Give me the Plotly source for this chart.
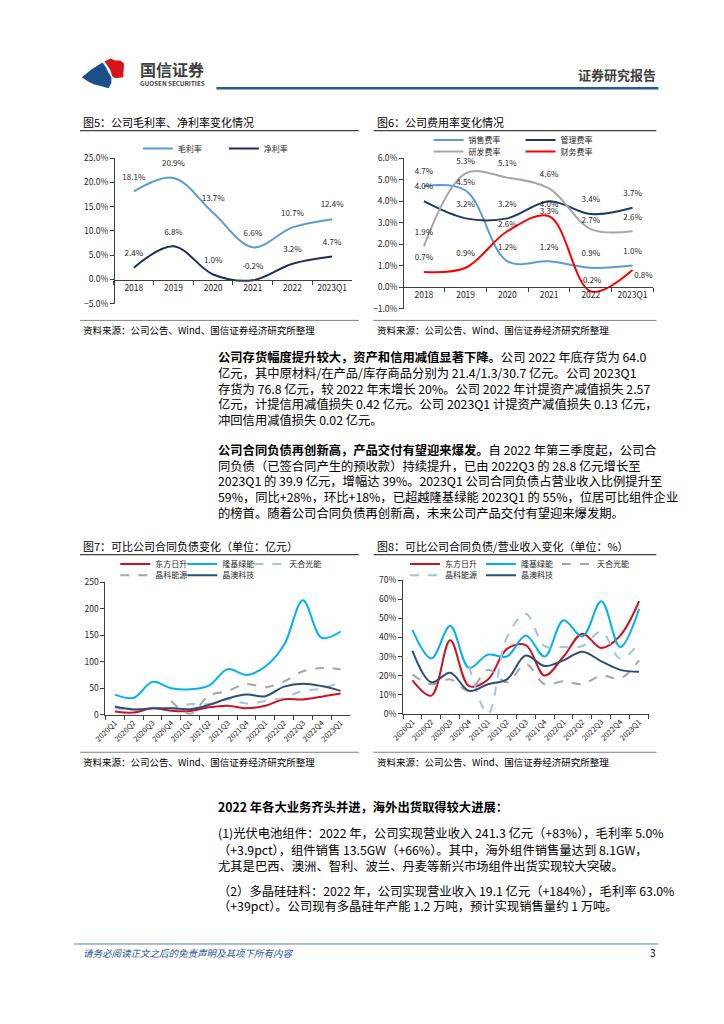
import plotly.graph_objects as go

W, H = 724, 1024
OFF = 8  # the page body has an 8px default margin
def X(px): return (px - OFF) / W
def Y(py): return 1 - (py - OFF) / H

FONT = "Noto Sans CJK SC, Noto Sans, sans-serif"
TXT = "#262626"
AX = "#404040"

# ---------------- data ----------------
years = ["2018", "2019", "2020", "2021", "2022", "2023Q1"]
gross_margin = [18.1, 20.9, 13.7, 6.6, 10.7, 12.4]
net_margin = [2.4, 6.8, 1.0, -0.2, 3.2, 4.7]

sales_rate = [4.7, 4.5, 1.2, 1.2, 0.9, 1.0]
admin_rate = [4.0, 3.2, 3.2, 4.0, 3.4, 3.7]
rd_rate = [1.9, 5.3, 5.1, 4.6, 2.7, 2.6]
fin_rate = [0.7, 0.9, 2.6, 3.3, -0.2, 0.8]

quarters = ["2020Q1", "2020Q2", "2020Q3", "2020Q4", "2021Q1", "2021Q2", "2021Q3",
            "2021Q4", "2022Q1", "2022Q2", "2022Q3", "2022Q4", "2023Q1"]
# 图7 合同负债（亿元）
dfrs_cl = [6, 4, 12, 7.5, 7, 14, 17, 12, 17, 29, 28.8, 34, 39.9]
longi_cl = [38, 32, 62, 50, 48, 55, 86, 75, 91, 132, 216, 145, 157]
trina_cl = [12, 10, 13, 12, 20, 20, 29, 21, 26, 32, 45, 49, 62]
jinko_cl = [None, None, None, 26, 2, 36, 45, 58, 52, 63, 82, 88, 86]
ja_cl = [15.5, 10, 12, 12, 10.5, 18.5, 30.5, 38, 35, 53, 58.5, 54, 45]
# 图8 合同负债/营业收入（%）
dfrs_ratio = [17.5, 9.5, 38.5, 14.5, 18, 34, 36, 20, 30, 42, 34.5, 41, 59]
longi_ratio = [44, 29, 46, 24, 31, 30, 41, 30, 49, 40.5, 59, 35, 55]
trina_ratio = [20.5, 15.5, 18, 12, 23, 16.5, 26, 15.5, 17, 15.5, 20, 18.5, 28]
jinko_ratio = [None, None, None, 25, 0, 40, 52.5, 35.5, 35, 35.5, 43, 29, 37]
ja_ratio = [33, 16.5, 21.5, 12, 15.5, 18, 30.5, 25, 28, 32.5, 27.5, 23, 22]

# ---------------- figure ----------------
fig = go.Figure()

def line(x, y, name, color, xa, ya, lg, dash="solid", width=2, lw=None):
    fig.add_trace(go.Scatter(
        x=x, y=y, name=name, mode="lines", xaxis=xa, yaxis=ya, legend=lg,
        line=dict(color=color, width=width, shape="spline", dash=dash),
        legendwidth=lw, hoverinfo="x+y+name"))

def labels(x, y, xa, ya, pos, sizes):
    fig.add_trace(go.Scatter(
        x=x, y=y, mode="markers+text", xaxis=xa, yaxis=ya, showlegend=False,
        marker=dict(size=sizes, opacity=0, color="white"),
        texttemplate="%{y:.1f}%", textposition=pos, cliponaxis=False,
        textfont=dict(size=8, color=TXT, family=FONT), hoverinfo="skip"))

# 图5
line(years, gross_margin, "毛利率", "#5B9BD5", "x", "y", "legend")
line(years, net_margin, "净利率", "#1F2D5C", "x", "y", "legend", lw=45)
labels(years, gross_margin, "x", "y", "top center", 14)
labels(years, net_margin, "x", "y", "top center", 14)

# 图6
line(years, sales_rate, "销售费率", "#5B9BD5", "x2", "y2", "legend2")
line(years, admin_rate, "管理费率", "#1F3864", "x2", "y2", "legend2", lw=50)
line(years, rd_rate, "研发费率", "#A6A6A6", "x2", "y2", "legend3")
line(years, fin_rate, "财务费率", "#FF0000", "x2", "y2", "legend3", lw=50)
labels(years, sales_rate, "x2", "y2", "top center", [14, 4, 14, 14, 14, 14])
labels(years, admin_rate, "x2", "y2",
       ["top center", "top center", "top center", "bottom center", "top center", "top center"],
       [14, 14, 14, 0, 14, 14])
labels(years, rd_rate, "x2", "y2", "top center", [14, 10, 14, 14, 5, 14])
labels(years, fin_rate, "x2", "y2",
       ["top center", "top center", "top center", "top center", "top center", "bottom right"],
       [14, 14, 2, 0, 8, 1])

# 图7
line(quarters, dfrs_cl, "东方日升", "#D0101E", "x3", "y3", "legend4")
line(quarters, longi_cl, "隆基绿能", "#00B0F0", "x3", "y3", "legend4")
line(quarters, trina_cl, "天合光能", "#9DC3E6", "x3", "y3", "legend4", dash="dash", lw=45)
line(quarters, jinko_cl, "晶科能源", "#A6A6A6", "x3", "y3", "legend5", dash="dash")
line(quarters, ja_cl, "晶澳科技", "#2A5078", "x3", "y3", "legend5", lw=45)

# 图8
line(quarters, dfrs_ratio, "东方日升", "#D0101E", "x4", "y4", "legend6")
line(quarters, longi_ratio, "隆基绿能", "#00B0F0", "x4", "y4", "legend6")
line(quarters, trina_ratio, "天合光能", "#A6A6A6", "x4", "y4", "legend6", dash="dash", lw=45)
line(quarters, jinko_ratio, "晶科能源", "#9DC3E6", "x4", "y4", "legend7", dash="dash")
line(quarters, ja_ratio, "晶澳科技", "#2A5078", "x4", "y4", "legend7", lw=45)

# ---------------- axes ----------------
def xcat(domain, n, **kw):
    d = dict(domain=domain, type="category", range=[-0.5, n - 0.5], showline=True,
             linecolor=AX, linewidth=1, ticks="outside", tickson="boundaries",
             ticklen=4, tickcolor=AX, showgrid=False, zeroline=False,
             tickfont=dict(size=8.5, color=TXT, family=FONT), fixedrange=True)
    d.update(kw)
    return d

def yval(domain, rng, dtick, **kw):
    d = dict(domain=domain, range=rng, dtick=dtick, tick0=0, showline=True,
             linecolor=AX, linewidth=1, ticks="outside", ticklen=4, tickcolor=AX,
             showgrid=False, zeroline=False,
             tickfont=dict(size=8.5, color=TXT, family=FONT), fixedrange=True)
    d.update(kw)
    return d

fig.update_layout(
    xaxis=xcat([X(102.7), X(345)], 6, anchor="free", position=Y(276)),
    yaxis=yval([Y(300), Y(152.7)], [-5, 25], 5, anchor="free", position=X(102.7),
               tickformat=".1f", ticksuffix="%"),
    xaxis2=xcat([X(397), X(652)], 6, anchor="free", position=Y(283)),
    yaxis2=yval([Y(305), Y(153)], [-1, 6], 1, anchor="free", position=X(397),
                tickformat=".1f", ticksuffix="%"),
    xaxis3=xcat([X(94), X(343)], 13, anchor="y3", tickangle=-45,
                tickfont=dict(size=7.5, color=TXT, family=FONT)),
    yaxis3=yval([Y(716), Y(582)], [0, 250], 50, anchor="x3"),
    xaxis4=xcat([X(397), X(647)], 13, anchor="y4", tickangle=-45,
                tickfont=dict(size=7.5, color=TXT, family=FONT)),
    yaxis4=yval([Y(715), Y(580)], [0, 70], 10, anchor="x4", ticksuffix="%"),
)

# ---------------- legends ----------------
def leg(xtext, ycenter, ew, size=8):
    return dict(orientation="h", x=X(xtext - 40), xanchor="left", y=Y(ycenter),
                yanchor="middle", entrywidth=ew, entrywidthmode="pixels",
                bgcolor="rgba(0,0,0,0)", borderwidth=0, traceorder="normal",
                font=dict(size=size, color=TXT, family=FONT), itemclick=False,
                itemdoubleclick=False)

fig.update_layout(
    legend=leg(167, 143, 41),
    legend2=leg(463, 134.5, 47),
    legend3=leg(463, 146, 47),
    legend4=leg(144, 563.5, 22),
    legend5=leg(144, 575, 22),
    legend6=leg(439, 563.5, 31),
    legend7=leg(439, 575, 31),
)

# ---------------- page text & decorations ----------------
ann = []
def text(xp, yp, s, size=12, color="#000000", anchor="left", **kw):
    ann.append(dict(x=X(xp), y=Y(yp), xref="paper", yref="paper", text=s,
                    showarrow=False, xanchor=anchor, yanchor="middle",
                    font=dict(size=size, color=color, family=FONT), **kw))

shapes = []
def hline(x0, x1, yp, color, width):
    shapes.append(dict(type="line", xref="paper", yref="paper", x0=X(x0), x1=X(x1),
                       y0=Y(yp), y1=Y(yp), line=dict(color=color, width=width)))

def path(points, color):
    d = "M " + " L ".join(f"{X(a):.5f},{Y(b):.5f}" for a, b in points) + " Z"
    shapes.append(dict(type="path", xref="paper", yref="paper", path=d,
                       fillcolor=color, line=dict(width=0)))

# header
path([(70, 71), (80, 63), (91, 56), (94, 60), (97, 66), (100, 71), (100, 77),
      (97, 82), (90, 80), (82, 78), (76, 75)], "#1B4F8A")
path([(93, 55), (99, 52), (104, 54), (109, 54), (113, 57), (112, 71), (104, 72),
      (101, 70), (99, 64), (96, 59)], "#D7141A")
text(127, 63, "<b>国信证券</b>", 16, "#3F3F3F")
text(127, 77.5, "<b>GUOSEN SECURITIES</b>", 6.3, "#3F3F3F")
text(657, 68, "<b>证券研究报告</b>", 13, "#3F3F3F", anchor="right")
hline(207, 657, 82, "#1F5C99", 2.5)

# chart titles / sources
text(69, 116, "图5：公司毛利率、净利率变化情况", 11)
text(368, 116, "图6：公司费用率变化情况", 11)
text(69, 545, "图7：可比公司合同负债变化（单位：亿元）", 11)
text(368, 545, "图8：可比公司合同负债/营业收入变化（单位：%）", 11)
for x0, x1 in [(68, 352), (367, 655)]:
    hline(x0, x1, 125, "#404040", 1.2)
    hline(x0, x1, 317, "#808080", 1)
    hline(x0, x1, 554, "#404040", 1.2)
    hline(x0, x1, 754, "#808080", 1)
src = "资料来源：公司公告、Wind、国信证券经济研究所整理"
text(69, 327, src, 9.5)
text(368, 327, src, 9.5)
text(69, 764, src, 9.5)
text(368, 764, src, 9.5)

# body paragraphs
p1 = ["<b>公司存货幅度提升较大，资产和信用减值显著下降。</b>公司 2022 年底存货为 64.0",
      "亿元，其中原材料/在产品/库存商品分别为 21.4/1.3/30.7 亿元。公司 2023Q1",
      "存货为 76.8 亿元，较 2022 年末增长 20%。公司 2022 年计提资产减值损失 2.57",
      "亿元，计提信用减值损失 0.42 亿元。公司 2023Q1 计提资产减值损失 0.13 亿元，",
      "冲回信用减值损失 0.02 亿元。"]
p2 = ["<b>公司合同负债再创新高，产品交付有望迎来爆发。</b>自 2022 年第三季度起，公司合",
      "同负债（已签合同产生的预收款）持续提升，已由 2022Q3 的 28.8 亿元增长至",
      "2023Q1 的 39.9 亿元，增幅达 39%。2023Q1 公司合同负债占营业收入比例提升至",
      "59%，同比+28%，环比+18%，已超越隆基绿能 2023Q1 的 55%，位居可比组件企业",
      "的榜首。随着公司合同负债再创新高，未来公司产品交付有望迎来爆发期。"]
for i, s in enumerate(p1):
    text(207, 354 + i * 16, s, 12.3)
for i, s in enumerate(p2):
    text(207, 448 + i * 16, s, 12.3)
text(207, 809, "<b>2022 年各大业务齐头并进，海外出货取得较大进展：</b>", 12.3)
p3 = ["(1)光伏电池组件：2022 年，公司实现营业收入 241.3 亿元（+83%），毛利率 5.0%",
      "（+3.9pct），组件销售 13.5GW（+66%）。其中，海外组件销售量达到 8.1GW，",
      "尤其是巴西、澳洲、智利、波兰、丹麦等新兴市场组件出货实现较大突破。"]
for i, s in enumerate(p3):
    text(207, 836 + i * 16.5, s, 12.3)
p4 = ["（2）多晶硅硅料：2022 年，公司实现营业收入 19.1 亿元（+184%），毛利率 63.0%",
      "（+39pct）。公司现有多晶硅年产能 1.2 万吨，预计实现销售量约 1 万吨。"]
for i, s in enumerate(p4):
    text(207, 894 + i * 16, s, 12.3)

# footer
hline(62, 657, 948, "#5B7DB1", 1)
text(69, 957, "<i>请务必阅读正文之后的免责声明及其项下所有内容</i>", 9.5, "#2E5597")
text(657, 957, "3", 10, "#000000", anchor="right")

fig.update_layout(
    width=W, height=H, margin=dict(l=0, r=0, t=0, b=0),
    paper_bgcolor="white", plot_bgcolor="rgba(0,0,0,0)",
    font=dict(family=FONT, color=TXT),
    annotations=ann, shapes=shapes, hovermode="closest",
)

fig.write_html("out.html")
